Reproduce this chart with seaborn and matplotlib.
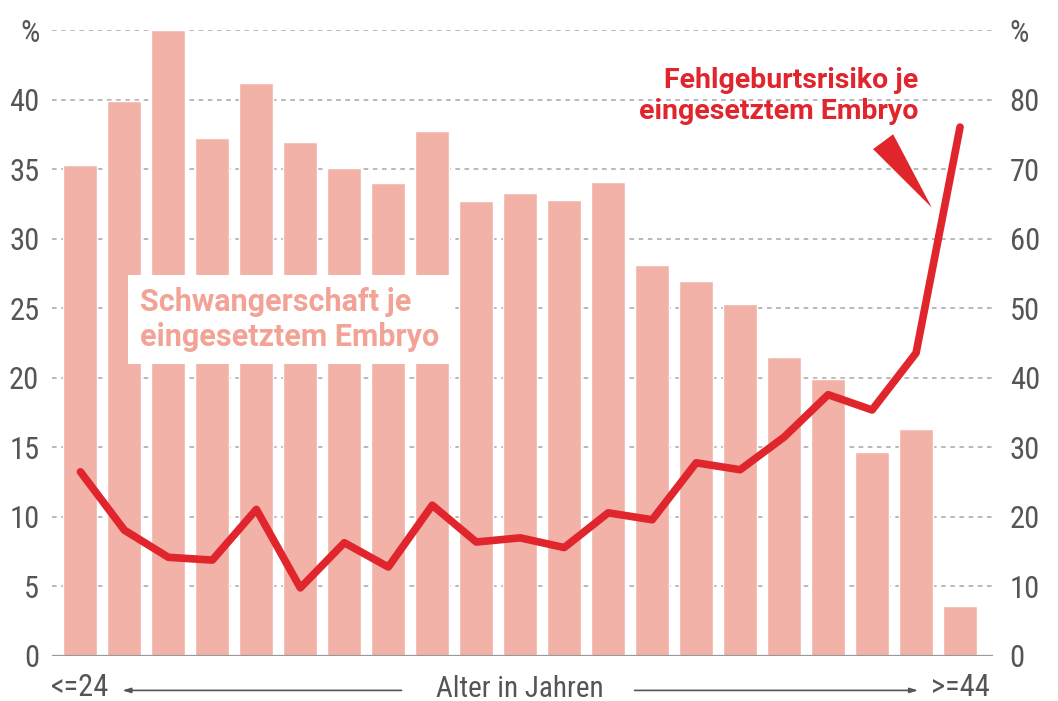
import matplotlib
matplotlib.use("Agg")
import matplotlib.pyplot as plt
import seaborn as sns
import pandas as pd

# age groups (x axis)
ages = ["<=24"] + [str(a) for a in range(25, 44)] + [">=44"]

# Schwangerschaft je eingesetztem Embryo, % (left axis, bars)
pregnancy = [35.3, 39.9, 45.0, 37.3, 41.2, 37.0, 35.1, 34.0, 37.8, 32.7,
             33.3, 32.8, 34.1, 28.1, 27.0, 25.3, 21.5, 19.9, 14.7, 16.3, 3.6]

# Fehlgeburtsrisiko je eingesetztem Embryo, % (right axis, line)
miscarriage = [26.5, 18.1, 14.2, 13.8, 21.1, 9.8, 16.3, 12.8, 21.7, 16.4,
               17.0, 15.6, 20.6, 19.6, 27.8, 26.8, 31.5, 37.6, 35.4, 43.6, 76.1]

left_ticks = [0, 5, 10, 15, 20, 25, 30, 35, 40, 45]
left_labels = ["0", "5", "10", "15", "20", "25", "30", "35", "40", "%"]
right_ticks = [0, 10, 20, 30, 40, 50, 60, 70, 80, 90]
right_labels = ["0", "10", "20", "30", "40", "50", "60", "70", "80", "%"]

df = pd.DataFrame({"age": ages, "pregnancy": pregnancy, "miscarriage": miscarriage})

BAR = "#f2b2a8"
RED = "#e0252d"
PINK = "#f3a396"
GREY = "#555555"
LABEL_FONT = ["Roboto", "DejaVu Sans"]

sns.set_theme(style="white")
plt.rcParams["font.family"] = ["Roboto Condensed", "Liberation Sans Narrow", "DejaVu Sans"]

fig = plt.figure(figsize=(10.58, 7.01), dpi=100)
ax = fig.add_axes([0.049, 0.0642, 0.8896, 0.8923])

# dashed grid behind the bars
for t in left_ticks[1:]:
    ax.axhline(t, color="#a5a5a5", lw=1.1, ls=(0, (3, 3)), zorder=0)

sns.barplot(data=df, x="age", y="pregnancy", color=BAR, width=0.77,
            saturation=1, ax=ax, zorder=2)
ax.axhline(0, color="#9a9a9a", lw=1.6, zorder=3)

ax.set_xlim(-0.65, 20.75)
ax.set_ylim(0, 45)
ax.set_yticks(left_ticks)
ax.set_yticklabels(left_labels)
ax.set_xticks([0, 20])
ax.set_xticklabels([ages[0], ages[-1]])
ax.set_xlabel("")
ax.set_ylabel("")
ax.tick_params(axis="both", length=0, labelsize=22, colors=GREY)
ax.tick_params(axis="y", pad=9)
ax.tick_params(axis="x", pad=12)
for s in ax.spines.values():
    s.set_visible(False)

# x axis caption with arrows
tr = ax.get_xaxis_transform()
ax.text(10, -0.052, "Alter in Jahren", transform=tr, ha="center", va="center",
        fontsize=21, color=GREY)
ax.annotate("", xy=(0.95, -0.055), xytext=(7.3, -0.055), xycoords=tr, textcoords=tr,
            arrowprops=dict(arrowstyle="-|>,head_length=0.4,head_width=0.12",
                            color=GREY, lw=1.2, shrinkA=0, shrinkB=0), annotation_clip=False)
ax.annotate("", xy=(19.05, -0.055), xytext=(12.6, -0.055), xycoords=tr, textcoords=tr,
            arrowprops=dict(arrowstyle="-|>,head_length=0.4,head_width=0.12",
                            color=GREY, lw=1.2, shrinkA=0, shrinkB=0), annotation_clip=False)

ax.text(1.36, 24.2, "Schwangerschaft je\neingesetztem Embryo", ha="left", va="center",
        fontsize=22, fontweight="bold", color=PINK, linespacing=1.2, zorder=5,
        family=LABEL_FONT,
        bbox=dict(boxstyle="square,pad=0.4", facecolor="white", edgecolor="none"))

# line on the right axis
ax2 = ax.twinx()
sns.lineplot(x=list(range(len(ages))), y=miscarriage, color=RED, lw=5.5, ax=ax2,
             zorder=4)
ax2.set_ylim(0, 90)
ax2.set_yticks(right_ticks)
ax2.set_yticklabels(right_labels)
ax2.tick_params(axis="y", length=0, labelsize=22, colors=GREY, pad=12)
ax2.set_ylabel("")
for s in ax2.spines.values():
    s.set_visible(False)

ax2.text(19.05, 80.6, "Fehlgeburtsrisiko je\neingesetztem Embryo", ha="right", va="center",
         fontsize=20.5, fontweight="bold", color=RED, linespacing=1.2, family=LABEL_FONT)
ax2.annotate("", xy=(19.36, 64.5), xytext=(18.25, 74.0),
             arrowprops=dict(arrowstyle="wedge,tail_width=0.9", mutation_scale=20,
                             color=RED, lw=0, shrinkA=0, shrinkB=0))

fig.savefig("out.png", dpi=100)
